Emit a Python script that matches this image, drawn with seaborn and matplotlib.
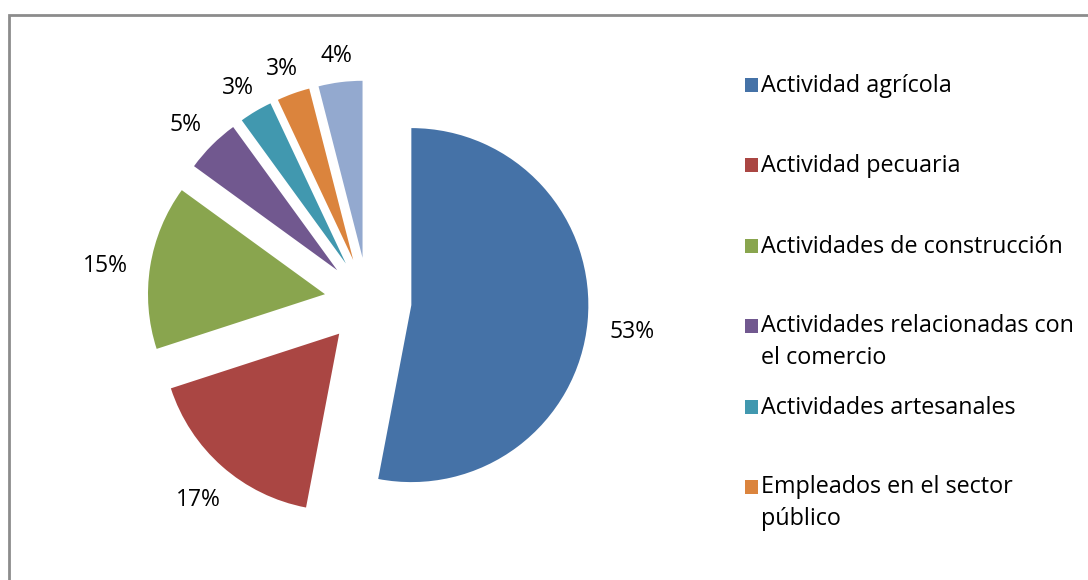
import matplotlib
matplotlib.use("Agg")
import numpy as np
import matplotlib.pyplot as plt
from matplotlib.patches import Rectangle
import seaborn as sns

categories = [
    "Actividad agrícola",
    "Actividad pecuaria",
    "Actividades de construcción",
    "Actividades relacionadas con\nel comercio",
    "Actividades artesanales",
    "Empleados en el sector\npúblico",
    "Otros",
]
values = [53, 17, 15, 5, 3, 3, 4]
colors = ["#4572A7", "#AA4643", "#89A54E", "#71588F", "#4198AF", "#DB843D", "#93A9CF"]

sns.set_theme(style="white")
plt.rcParams["font.family"] = ["Open Sans", "DejaVu Sans"]
palette = sns.color_palette(colors)

W, H = 1088, 580
fig = plt.figure(figsize=(W / 100, H / 100), dpi=100)
ax = fig.add_axes([0, 0, 1, 1])

R = 177
cx, cy = 368, H - 301
EXP = 0.246 * R
explode = [EXP] * len(values)

LABEL_FS = 16.5
wedges, texts = ax.pie(
    values,
    colors=palette,
    startangle=90,
    counterclock=False,
    explode=explode,
    radius=R,
    center=(cx, cy),
    labels=[f"{v}%" for v in values],
    labeldistance=1.22,
    textprops=dict(fontsize=LABEL_FS, color="black", ha="center", va="baseline"),
    wedgeprops=dict(linewidth=0),
    frame=True,
)

ax.set_xlim(0, W)
ax.set_ylim(0, H)
ax.set_aspect("equal")
ax.axis("off")

# place labels like "outside end": text box edge at fixed gap from the centre
fig.canvas.draw()
renderer = fig.canvas.get_renderer()
digit_h = 0.714 * LABEL_FS / 72 * 100
edge = 197
for w, t in zip(wedges, texts):
    theta = np.deg2rad(0.5 * (w.theta1 + w.theta2))
    dx, dy = np.cos(theta), np.sin(theta)
    wx, wy = w.center
    bb = t.get_window_extent(renderer)
    hw = bb.width / 2 + 2
    hh = digit_h / 2 + 4
    ext = min(hw / max(abs(dx), 1e-6), hh / max(abs(dy), 1e-6))
    px = wx + (edge + ext) * dx
    py = wy + (edge + ext) * dy
    t.set_position((px, py - digit_h / 2 - 4))
    t.set_ha("center")
    t.set_va("baseline")

# chart border (gray), extends beyond the right and bottom edges
fig.patches.append(Rectangle((9 / W, -0.1), 1.2, (H - 15) / H + 0.1,
                             transform=fig.transFigure, fill=False,
                             edgecolor="#8c8c8c", linewidth=2))

# legend (only the visible entries); marker aligned with first line
base0, step, pitch = 92, 80.4, 31
for i, (lab, col) in enumerate(zip(categories[:6], palette[:6])):
    yb = base0 + i * step
    nlines = lab.count("\n") + 1
    fig.patches.append(Rectangle((745 / W, 1 - yb / H), 13 / W, 14 / H,
                                 transform=fig.transFigure, facecolor=col,
                                 edgecolor="none"))
    fig.text(761 / W, 1 - (yb + (nlines - 1) * pitch) / H, lab, fontsize=16.8,
             color="black", ha="left", va="baseline", linespacing=1.43)

fig.savefig("out.png", dpi=100)
